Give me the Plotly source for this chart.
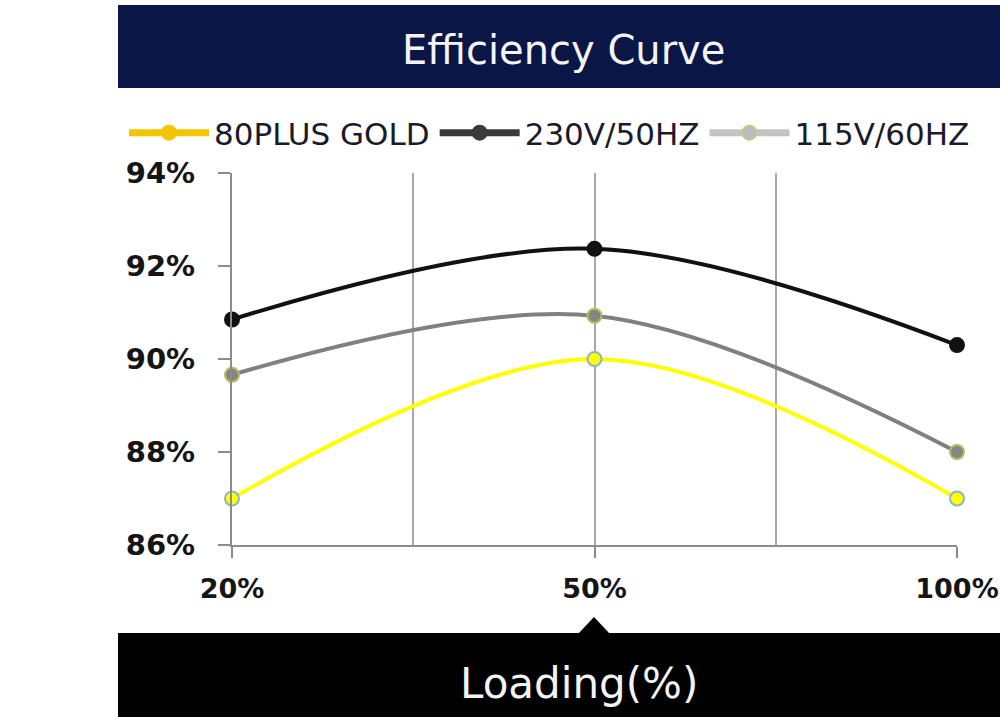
import plotly.graph_objects as go

loading = ["20%", "50%", "100%"]
gold_80plus = [87.0, 90.0, 87.0]
v230_50hz = [90.85, 92.37, 90.30]
v115_60hz = [89.66, 90.93, 88.0]
series_names = ["80PLUS GOLD", "230V/50HZ", "115V/60HZ"]
y_ticks = [86, 88, 90, 92, 94]
y_tick_labels = ["86%", "88%", "90%", "92%", "94%"]

xpos = list(range(len(loading)))

# plot area in pixels
L, R, T, B = 232, 43, 173, 172
W, H = 1000 - L - R, 717 - T - B
def px(x):
    return (x - L) / W
def py(y):
    return (717 - B - y) / H

fig = go.Figure()

line_styles = [
    dict(color="#ffff00", fill="#ffff00", edge="#8fb4c8"),
    dict(color="#111111", fill="#111111", edge="#111111"),
    dict(color="#808080", fill="#858585", edge="#b4bc5c"),
]
legend_styles = [
    dict(color="#f5c400", fill="#f5c400", edge="#f5c400"),
    dict(color="#3a3a3a", fill="#3a3a3a", edge="#3a3a3a"),
    dict(color="#c4c4c4", fill="#b8bcc4", edge="#c4cc78"),
]
for name, ys, st in zip(series_names, [gold_80plus, v230_50hz, v115_60hz], line_styles):
    fig.add_trace(go.Scatter(
        x=xpos, y=ys, mode="lines+markers", name=name, showlegend=False,
        line=dict(color=st["color"], width=4, shape="spline"),
        marker=dict(size=14, color=st["fill"], line=dict(color=st["edge"], width=2)),
        cliponaxis=False,
    ))
for name, lg in zip(series_names, legend_styles):
    fig.add_trace(go.Scatter(
        x=[None], y=[None], mode="lines+markers", name=name, showlegend=True,
        line=dict(color=lg["color"], width=7),
        marker=dict(size=14, color=lg["fill"], line=dict(color=lg["edge"], width=2)),
    ))

shapes = [
    # header band
    dict(type="rect", xref="paper", yref="paper", x0=px(118), x1=px(1000), y0=py(88), y1=py(5),
         fillcolor="#0a1646", line=dict(width=0), layer="below"),
    # bottom band
    dict(type="rect", xref="paper", yref="paper", x0=px(118), x1=px(1000), y0=py(717), y1=py(633),
         fillcolor="#000000", line=dict(width=0), layer="below"),
    # notch triangle
    dict(type="path", xref="paper", yref="paper",
         path=f"M {px(578)} {py(634)} L {px(594)} {py(617)} L {px(610)} {py(634)} Z",
         fillcolor="#000000", line=dict(width=0), layer="below"),
]

annotations = [
    dict(text="Efficiency Curve", xref="paper", yref="paper", x=px(563), y=py(50),
         showarrow=False, font=dict(family="DejaVu Sans", size=40, color="#f4f4f4"),
         xanchor="center", yanchor="middle"),
    dict(text="Loading(%)", xref="paper", yref="paper", x=px(579), y=py(683),
         showarrow=False, font=dict(family="DejaVu Sans", size=42, color="#f4f4f4"),
         xanchor="center", yanchor="middle"),
]

fig.update_layout(
    width=1000, height=717,
    margin=dict(l=L, r=R, t=T, b=B, pad=0, autoexpand=False),
    paper_bgcolor="#ffffff", plot_bgcolor="#ffffff",
    shapes=shapes, annotations=annotations,
    showlegend=True,
    legend=dict(orientation="h", x=px(124), xanchor="left", y=py(133), yanchor="middle",
                font=dict(family="DejaVu Sans", size=31, color="#1a1a2a"),
                itemwidth=80, bgcolor="rgba(0,0,0,0)", tracegroupgap=0),
    xaxis=dict(range=[0, 2], tickvals=xpos, ticktext=loading, automargin=False,
               ticklabeloverflow="allow",
               showline=True, linecolor="#8c8c8c", linewidth=2,
               ticks="outside", ticklen=11, tickcolor="#8c8c8c", tickwidth=2,
               showgrid=True, gridcolor="#a8a8a8", gridwidth=1.5,
               minor=dict(tickvals=[0.5, 1.5], showgrid=True, gridcolor="#a8a8a8", gridwidth=1.5, ticks=""),
               tickfont=dict(family="DejaVu Sans", size=27, color="#151515", weight="bold"),
               ticklabelstandoff=8, zeroline=False, fixedrange=True),
    yaxis=dict(range=[86, 94], tickvals=y_ticks, ticktext=y_tick_labels, automargin=False,
               ticklabeloverflow="allow",
               showline=True, linecolor="#8c8c8c", linewidth=2,
               ticks="outside", ticklen=12, tickcolor="#8c8c8c", tickwidth=2,
               showgrid=False, zeroline=False,
               tickfont=dict(family="DejaVu Sans", size=29, color="#151515", weight="bold"),
               ticklabelstandoff=17, fixedrange=True),
)

fig.write_html("out.html")
